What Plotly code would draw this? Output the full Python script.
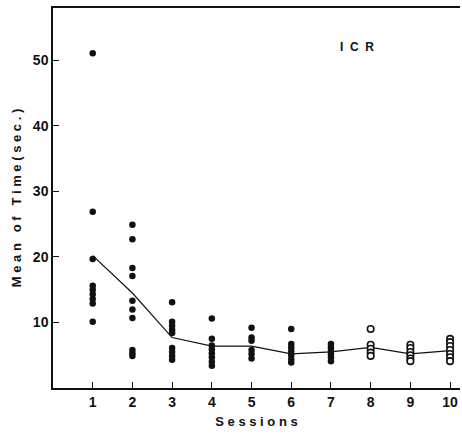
import plotly.graph_objects as go

# Individual session times (seconds) for each subject, sessions 1-10
sessions = [1, 2, 3, 4, 5, 6, 7, 8, 9, 10]
times = {
    1: [51.1, 26.9, 19.7, 15.6, 15.0, 14.3, 13.6, 12.9, 10.1],
    2: [24.9, 22.7, 18.3, 17.1, 13.3, 12.0, 10.7, 5.8, 5.3, 4.9],
    3: [13.1, 10.1, 9.5, 8.9, 8.4, 6.1, 5.5, 4.9, 4.3],
    4: [10.6, 7.5, 6.5, 5.9, 5.3, 4.7, 4.0, 3.4],
    5: [9.2, 7.7, 7.2, 5.8, 5.2, 4.5],
    6: [9.0, 6.7, 6.2, 5.6, 5.0, 4.4, 3.9],
    7: [6.7, 6.2, 5.7, 5.2, 4.7, 4.1],
    8: [9.0, 6.6, 6.0, 5.4, 4.9],
    9: [6.6, 6.1, 5.5, 5.0, 4.5, 4.1],
    10: [7.5, 7.0, 6.4, 5.8, 5.2, 4.7, 4.1],
}
mean_time = [20.2, 14.5, 7.7, 6.4, 6.4, 5.2, 5.5, 6.2, 5.2, 5.7]
open_sessions = [8, 9, 10]

x_ticks = [1, 2, 3, 4, 5, 6, 7, 8, 9, 10]
y_ticks = [10, 20, 30, 40, 50]

font_family = "Liberation Sans, Arial, sans-serif"
NB = "\u00a0"


def spaced(text, gap=1):
    """Letter-spaced text using non-breaking spaces."""
    words = text.split(" ")
    return (NB * (gap + 2)).join((NB * gap).join(w) for w in words)


fig = go.Figure()

# Mean line
fig.add_trace(go.Scatter(
    x=sessions, y=mean_time, mode="lines",
    line=dict(color="#111", width=1.2), showlegend=False, hoverinfo="skip",
))

# Individual points
for s in sessions:
    vals = times[s]
    hollow = s in open_sessions
    fig.add_trace(go.Scatter(
        x=[s] * len(vals), y=vals, mode="markers",
        marker=dict(
            size=6.5,
            color="white" if hollow else "#111",
            symbol="circle",
            line=dict(color="#111", width=1.6 if hollow else 0),
        ),
        showlegend=False,
    ))

fig.add_annotation(
    x=7.65, y=52.1, text=spaced("ICR", 2), showarrow=False,
    font=dict(family=font_family, size=12, color="#111", weight="bold"),
)

fig.update_layout(
    width=462, height=441,
    margin=dict(l=53, r=2, t=8, b=53),
    paper_bgcolor="white", plot_bgcolor="white",
    font=dict(family=font_family, color="#111"),
)

fig.update_xaxes(
    range=[0, 10.25], tickvals=x_ticks, ticktext=[str(t) for t in x_ticks],
    ticks="inside", ticklen=6, tickwidth=1.2, tickcolor="#111",
    showline=True, linecolor="#111", linewidth=1.5, mirror=True,
    showgrid=False, zeroline=False,
    tickfont=dict(family=font_family, size=14, color="#111", weight="bold"),
    title=dict(text=spaced("Sessions"), standoff=8,
               font=dict(family=font_family, size=13, color="#111", weight="bold")),
)

fig.update_yaxes(
    range=[0, 58], tickvals=y_ticks, ticktext=[str(t) for t in y_ticks],
    ticks="inside", ticklen=6, tickwidth=1.2, tickcolor="#111",
    showline=True, linecolor="#111", linewidth=1.5,
    showgrid=False, zeroline=False,
    tickfont=dict(family=font_family, size=14, color="#111", weight="bold"),
    title=dict(text=spaced("Mean of Time(sec.)"), standoff=8,
               font=dict(family=font_family, size=13, color="#111", weight="bold")),
)

fig.write_html("out.html")
